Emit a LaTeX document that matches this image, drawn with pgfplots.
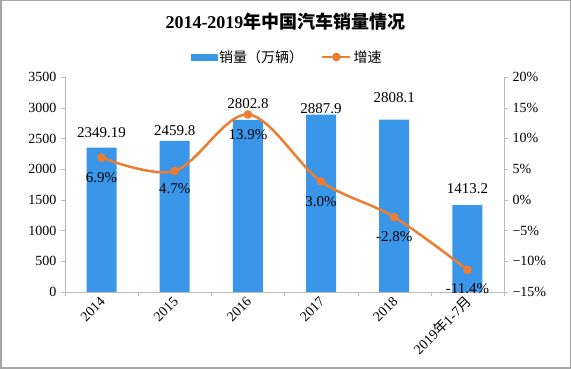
\documentclass[border=0pt]{standalone}
\usepackage{pgfplots}
\pgfplotsset{compat=1.18}
\usepackage{fontspec}
\setmainfont{Liberation Serif}
\newfontfamily\cjk{Noto Sans CJK SC}
\definecolor{barblue}{RGB}{58,150,232}
\definecolor{lineor}{RGB}{237,125,49}
\definecolor{axgray}{RGB}{185,185,185}
\pgfplotsset{mylineleg/.style={legend image code/.code={\draw[mark repeat=2,mark phase=2,##1] plot coordinates {(0pt,0pt)(14pt,0pt)(28pt,0pt)};}}}
\begin{document}
\begin{tikzpicture}[x=1pt,y=1pt]
\useasboundingbox (0,0) rectangle (571,369);
\fill[white] (0,0) rectangle (571,369);
\begin{axis}[
  at={(65pt,77pt)}, anchor=south west,
  scale only axis, width=439pt, height=215pt,
  xmin=-0.5, xmax=5.5, ymin=0, ymax=3500,
  axis x line*=bottom, axis y line*=left,
  axis line style={axgray,-},
  ytick={0,500,...,3500},
  xtick={0,...,5},
  xticklabels={2014,2015,2016,2017,2018,{2019{\cjk 年}1-7{\cjk 月}}},
  minor xtick={-0.5,0.5,...,5.5},
  major x tick style={draw=none},
  minor x tick style={axgray},
  minor tick length=4pt,
  major tick length=4pt,
  y tick style={axgray},
  tick align=outside,
  tick pos=left,
  /pgf/number format/assume math mode=true,
  yticklabel style={font=\fontsize{14}{16}\selectfont, xshift=-1pt},
  xticklabel style={font=\fontsize{14}{16}\selectfont, rotate=45, anchor=east, yshift=-3pt, xshift=2pt},
  scaled y ticks=false,
  y tick label style={/pgf/number format/1000 sep={}},
  clip=false,
]
\addplot[ybar, bar width=30pt, fill=barblue, draw=none] coordinates {(0,2349.19)(1,2459.8)(2,2802.8)(3,2887.9)(4,2808.1)(5,1413.2)};
\begin{scope}[every node/.style={font=\fontsize{15}{17}\selectfont, inner sep=0pt}]
\node at (axis cs:0,2588) {2349.19};
\node at (axis cs:1,2621) {2459.8};
\node at (axis cs:2,3060) {2802.8};
\node at (axis cs:3,2979) {2887.9};
\node at (axis cs:4,3158) {2808.1};
\node at (axis cs:5,1677) {1413.2};
\end{scope}
\end{axis}
\begin{axis}[
  at={(65pt,77pt)}, anchor=south west,
  scale only axis, width=439pt, height=215pt,
  xmin=-0.5, xmax=5.5, ymin=-15, ymax=20,
  axis x line=none, axis y line*=right,
  axis line style={axgray,-},
  ytick={-15,-10,...,20},
  yticklabels={−15\%,−10\%,−5\%,0\%,5\%,10\%,15\%,20\%},
  y tick style={axgray},
  major tick length=4pt,
  tick align=outside,
  yticklabel style={font=\fontsize{14}{16}\selectfont, xshift=1pt},
  clip=false,
  legend style={at={(0.506,1.093)}, anchor=center, draw=none, fill=none,
    legend columns=2, font=\cjk\fontsize{14}{16}\selectfont,
    /tikz/every even column/.append style={column sep=16pt}},
]
\addlegendimage{legend image code/.code={\fill[barblue] (0pt,-3pt) rectangle (26pt,3pt);}}
\addlegendentry{销量（万辆）}
\addplot[lineor, line width=2.5pt, smooth, tension=0.55, mark=*, mark size=3pt, mylineleg]
  coordinates {(0,6.9)(1,4.7)(2,13.9)(3,3.0)(4,-2.8)(5,-11.4)};
\addlegendentry{增速}
\begin{scope}[every node/.style={font=\fontsize{15}{17}\selectfont, inner sep=0pt}]
\node at (axis cs:0,3.7) {6.9\%};
\node at (axis cs:1,1.8) {4.7\%};
\node at (axis cs:2,10.7) {13.9\%};
\node at (axis cs:3,-0.35) {3.0\%};
\node at (axis cs:4,-6.05) {-2.8\%};
\node at (axis cs:5,-14.5) {-11.4\%};
\end{scope}
\end{axis}
\node at (285.5,347) {\bfseries\fontsize{18}{20}\selectfont 2014-2019{\cjk 年中国汽车销量情况}};
\draw[gray!70, line width=1.5pt] (0.75,0.75) rectangle (570.25,368.25);
\end{tikzpicture}
\end{document}
